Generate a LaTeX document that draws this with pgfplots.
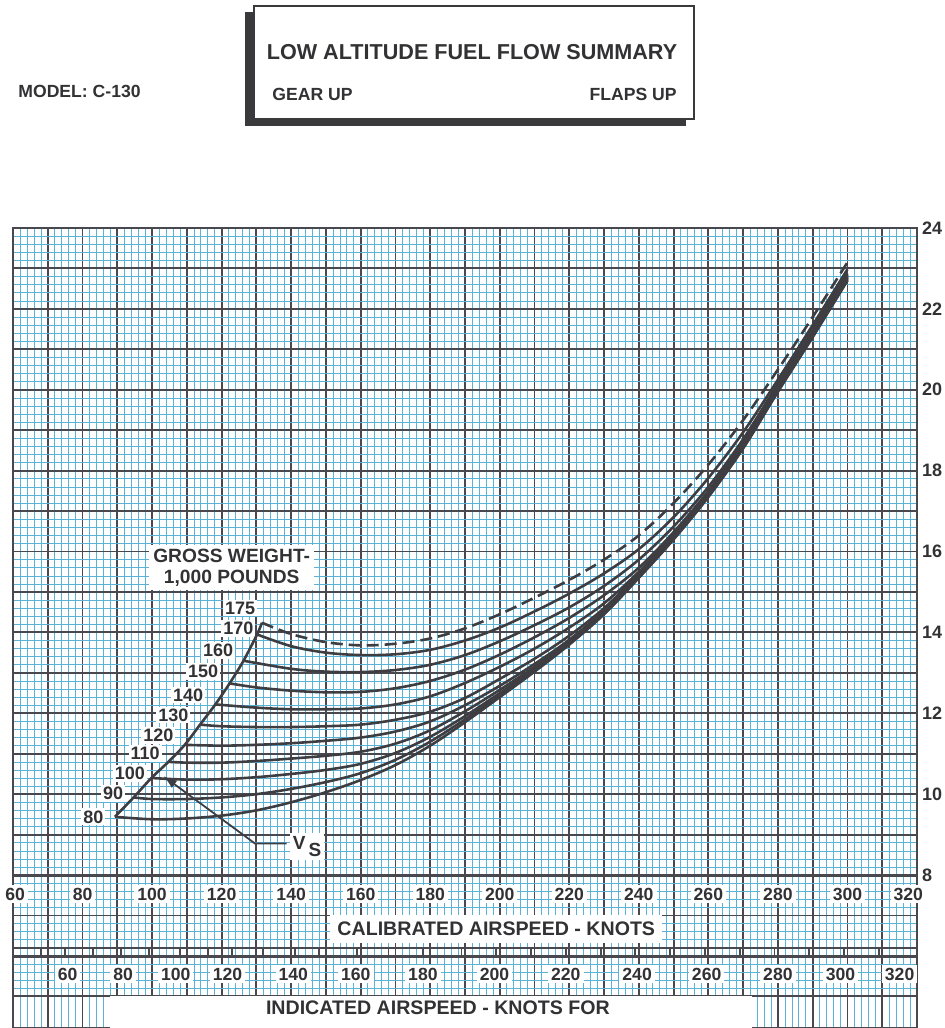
\documentclass[border=0pt]{standalone}
\usepackage{pgfplots}
\pgfplotsset{compat=1.18}
\usepackage{fontspec}
\setmainfont{Liberation Sans}
\usetikzlibrary{arrows.meta}
\definecolor{gridblue}{RGB}{90,178,214}
\definecolor{griddark}{RGB}{72,72,78}
\definecolor{curve}{RGB}{62,62,66}
\definecolor{shadowc}{RGB}{58,58,60}
\definecolor{txt}{RGB}{50,50,52}
\newcommand{\lab}{\fontsize{8.8}{10}\selectfont\bfseries}
\tikzset{
  tlab/.style={fill=white, inner sep=1.5pt, text=txt, font=\lab},
  wlab/.style={fill=white, inner sep=1pt, text=txt, font=\fontsize{9}{10}\selectfont\bfseries},
  rtick/.style={griddark, line width=0.9pt},
}
\begin{document}
\begin{tikzpicture}
\useasboundingbox (0pt,0pt) rectangle (472pt,-514pt);
% ---- header ----
\fill[shadowc] (122.5pt,-6pt) rectangle (343pt,-63pt);
\draw[line width=0.8pt, draw=shadowc, fill=white] (127pt,-3pt) rectangle (347pt,-59.5pt);
\node[inner sep=0pt, text=txt, font=\fontsize{10.8}{12}\selectfont\bfseries] at (236pt,-26pt) {LOW ALTITUDE FUEL FLOW SUMMARY};
\node[inner sep=0pt, anchor=west, text=txt, font=\lab] at (136pt,-47pt) {GEAR UP};
\node[inner sep=0pt, anchor=east, text=txt, font=\lab] at (338.5pt,-47pt) {FLAPS UP};
\node[inner sep=0pt, anchor=west, text=txt, font=\lab] at (9pt,-45.5pt) {MODEL: C-130};
% ---- chart ----
\begin{axis}[
  at={(6.5pt,-514pt)}, anchor=south west,
  width=452pt, height=400pt, scale only axis,
  xmin=60, xmax=320, ymin=4.218, ymax=24,
  xtick={60,70,...,320}, xticklabels={},
  ytick={5,6,...,24},
  yticklabels={,,,8,,10,,12,,14,,16,,18,,20,,22,,24},
  yticklabel pos=right,
  yticklabel style={font=\fontsize{9}{10}\selectfont\bfseries, text=txt, xshift=-1pt},
  minor x tick num=4, minor y tick num=4,
  grid=both,
  major grid style={griddark, line width=0.95pt},
  minor grid style={gridblue, line width=0.3pt},
  major tick length=0pt, minor tick length=0pt,
  axis line style={griddark, line width=1.4pt},
  clip=false,
]
% frame bottom of main chart
\draw[griddark, line width=1.5pt] (axis cs:60,8) -- (axis cs:320,8);
% ruler
\draw[griddark, line width=1.1pt] (axis cs:60,5.98) -- (axis cs:320,5.98);
\draw[griddark, line width=1.1pt] (axis cs:60,6.19) -- (axis cs:320,6.19);
\foreach \k in {68,75,83,91,99,108,116,123,132,141,148,159,168,178,189,199,209,219,229,239,249,259,269,279,289,299,309} {
  \edef\tmp{\noexpand\draw[rtick] (axis cs:\k,5.98) -- (axis cs:\k,6.19);}\tmp}

% white boxes
\node[fill=white, inner sep=2pt, text=txt, align=center, font=\fontsize{9.6}{10.2}\selectfont\bfseries] at (axis cs:122.9,15.6) {GROSS WEIGHT-\\1,000 POUNDS};
\node[fill=white, minimum width=166pt, minimum height=14pt, inner sep=0pt, text=txt, font=\fontsize{9.8}{11}\selectfont\bfseries] at (axis cs:199,6.67) {CALIBRATED AIRSPEED - KNOTS};
\fill[white] (axis cs:87.9,5.0) rectangle (axis cs:272.5,4.218);
\node[inner sep=0pt, text=txt, font=\fontsize{9.8}{11}\selectfont\bfseries] at (axis cs:182.2,4.71) {INDICATED AIRSPEED - KNOTS FOR};

% CAS labels
\foreach \x/\t in {60.6/60,80/80,100/100,120/120,140/140,160/160,180/180,200/200,220/220,240/240,260/260,280/280,300/300,317.5/320} {
  \edef\tmp{\noexpand\node[tlab] at (axis cs:\x,7.53) {\t};}\tmp}
% IAS labels
\foreach \x/\t in {75.7/60,91.7/80,106.8/100,121.7/120,140.6/140,158.6/160,177.9/180,198.5/200,219/220,239.5/240,259.5/260,280/280,298/300,315/320} {
  \edef\tmp{\noexpand\node[tlab] at (axis cs:\x,5.55) {\t};}\tmp}

% weight labels
\foreach \x/\y/\t in {125.3/14.60/175,124.8/14.10/170,119.0/13.56/160,114.7/13.03/150,110.4/12.45/140,106.1/11.96/130,101.8/11.46/120,98.0/11.0/110,93.6/10.52/100,88.8/10.02/90,83.1/9.44/80} {
  \edef\tmp{\noexpand\node[wlab] at (axis cs:\x,\y) {\t};}\tmp}

% Vs label
\node[fill=white, inner sep=1.5pt, text=txt, font=\fontsize{9.5}{10}\selectfont\bfseries] at (axis cs:144.6,8.7) {V\,\raisebox{-0.75ex}{S}};

% Stall speed line
\addplot[curve, line width=1.3pt, smooth, tension=0.5] coordinates {
(89.3,9.44) (94.7,9.92) (99.8,10.40) (104.7,10.80) (109.4,11.22) (113.8,11.72)
(118.2,12.22) (122.3,12.74) (126.3,13.30) (130.2,13.95) (131.6,14.24)};
% pointer to Vs
\addplot[curve, line width=0.9pt, -{Latex[length=7pt,width=4.5pt]}] coordinates {
(138.7,8.78) (129.6,8.78) (103.2,10.45)};

% 80
\addplot[curve, line width=1.3pt, smooth, tension=0.55] coordinates {
(89.3,9.44) (100,9.38) (110,9.40) (120,9.47) (130,9.60) (140,9.80) (150,10.05) (160,10.35)
(170,10.72) (180,11.20) (190,11.78) (200,12.40) (210,13.03) (220,13.70) (230,14.45) (240,15.35)
(250,16.30) (260,17.35) (270,18.55) (280,19.95) (290,21.30) (300,22.70)};
% 90
\addplot[curve, line width=1.3pt, smooth, tension=0.55] coordinates {
(94.7,9.92) (100,9.88) (110,9.88) (120,9.92) (130,10.00) (140,10.13) (150,10.30) (160,10.52)
(170,10.85) (180,11.30) (190,11.85) (200,12.45) (210,13.06) (220,13.72) (230,14.46) (240,15.36)
(250,16.32) (260,17.37) (270,18.57) (280,19.97) (290,21.33) (300,22.72)};
% 100
\addplot[curve, line width=1.3pt, smooth, tension=0.55] coordinates {
(99.8,10.40) (110,10.36) (120,10.37) (130,10.42) (140,10.50) (150,10.60) (160,10.75)
(170,11.02) (180,11.42) (190,11.93) (200,12.50) (210,13.10) (220,13.74) (230,14.48) (240,15.37)
(250,16.33) (260,17.38) (270,18.58) (280,19.98) (290,21.35) (300,22.74)};
% 110
\addplot[curve, line width=1.3pt, smooth, tension=0.55] coordinates {
(104.7,10.80) (110,10.78) (120,10.78) (130,10.82) (140,10.88) (150,10.95) (160,11.05)
(170,11.25) (180,11.58) (190,12.05) (200,12.58) (210,13.15) (220,13.77) (230,14.50) (240,15.38)
(250,16.35) (260,17.40) (270,18.60) (280,20.00) (290,21.37) (300,22.76)};
% 120
\addplot[curve, line width=1.3pt, smooth, tension=0.55] coordinates {
(109.4,11.22) (120,11.20) (130,11.22) (140,11.26) (150,11.32) (160,11.40)
(170,11.55) (180,11.80) (190,12.20) (200,12.68) (210,13.22) (220,13.82) (230,14.54) (240,15.40)
(250,16.37) (260,17.42) (270,18.62) (280,20.02) (290,21.40) (300,22.78)};
% 130
\addplot[curve, line width=1.3pt, smooth, tension=0.55] coordinates {
(113.8,11.72) (120,11.68) (130,11.66) (140,11.66) (150,11.68) (160,11.72)
(170,11.84) (180,12.04) (190,12.38) (200,12.85) (210,13.35) (220,13.92) (230,14.60) (240,15.44)
(250,16.40) (260,17.44) (270,18.64) (280,20.04) (290,21.42) (300,22.80)};
% 140
\addplot[curve, line width=1.3pt, smooth, tension=0.55] coordinates {
(118.2,12.22) (130,12.14) (140,12.10) (150,12.10) (160,12.12)
(170,12.22) (180,12.42) (190,12.75) (200,13.15) (210,13.60) (220,14.12) (230,14.72) (240,15.50)
(250,16.42) (260,17.46) (270,18.66) (280,20.06) (290,21.44) (300,22.82)};
% 150
\addplot[curve, line width=1.3pt, smooth, tension=0.55] coordinates {
(122.3,12.74) (130,12.64) (140,12.56) (150,12.52) (160,12.53)
(170,12.62) (180,12.80) (190,13.08) (200,13.45) (210,13.88) (220,14.36) (230,14.92) (240,15.60)
(250,16.48) (260,17.50) (270,18.70) (280,20.10) (290,21.48) (300,22.85)};
% 160
\addplot[curve, line width=1.3pt, smooth, tension=0.55] coordinates {
(126.3,13.30) (140,13.10) (150,13.03) (160,13.02)
(170,13.07) (180,13.20) (190,13.44) (200,13.78) (210,14.18) (220,14.62) (230,15.15) (240,15.80)
(250,16.62) (260,17.60) (270,18.78) (280,20.15) (290,21.52) (300,22.88)};
% 170
\addplot[curve, line width=1.3pt, smooth, tension=0.55] coordinates {
(130.2,13.95) (140,13.66) (150,13.50) (160,13.44)
(170,13.46) (180,13.57) (190,13.80) (200,14.12) (210,14.52) (220,14.96) (230,15.46) (240,16.06)
(250,16.85) (260,17.82) (270,18.95) (280,20.25) (290,21.60) (300,22.98)};
% 175 (dashed)
\addplot[curve, line width=1.3pt, smooth, tension=0.55, dash pattern=on 6pt off 3pt] coordinates {
(131.6,14.24) (140,13.96) (150,13.76) (160,13.68)
(170,13.72) (180,13.85) (190,14.10) (200,14.45) (210,14.86) (220,15.30) (230,15.80) (240,16.40)
(250,17.20) (260,18.15) (270,19.25) (280,20.50) (290,21.80) (300,23.15)};
\end{axis}
\end{tikzpicture}
\end{document}
